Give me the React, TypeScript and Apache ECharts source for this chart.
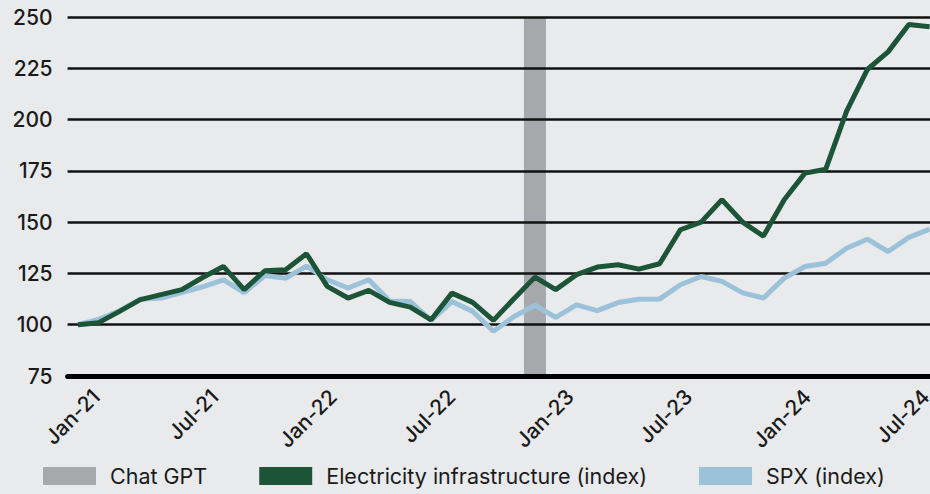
import React, { useEffect, useRef } from "react";
import * as echarts from "echarts";

const months = [
  "Jan-21","Feb-21","Mar-21","Apr-21","May-21","Jun-21","Jul-21","Aug-21","Sep-21","Oct-21","Nov-21","Dec-21",
  "Jan-22","Feb-22","Mar-22","Apr-22","May-22","Jun-22","Jul-22","Aug-22","Sep-22","Oct-22","Nov-22","Dec-22",
  "Jan-23","Feb-23","Mar-23","Apr-23","May-23","Jun-23","Jul-23","Aug-23","Sep-23","Oct-23","Nov-23","Dec-23",
  "Jan-24","Feb-24","Mar-24","Apr-24","May-24","Jun-24",
];

const electricity = [
  100, 101, 106.5, 112.2, 114.7, 117.1, 123, 128.4, 117.1, 126.3, 126.8, 134.6,
  118.7, 113, 116.7, 110.9, 108.6, 102.4, 115.4, 110.9, 102.1, 112.8, 123.2, 117.1,
  124.4, 128.1, 129.2, 127.1, 129.7, 146.3, 150, 160.9, 150, 143.2, 160.9, 173.9,
  175.8, 204, 224.4, 233, 246.3, 245.2,
];

const spx = [
  100, 102.6, 106.8, 112.4, 113, 115.7, 118.5, 121.9, 115.7, 124, 122.7, 128.6,
  121.9, 117.9, 121.9, 111.6, 111.3, 102.1, 111.3, 106.5, 96.8, 104, 109.5, 103.6,
  109.7, 106.9, 110.8, 112.4, 112.5, 119.5, 123.5, 121.1, 115.5, 113, 122.7, 128.4,
  130, 137.3, 141.7, 135.7, 142.6, 146.6,
];

const chatGpt = months.map((m) => (m === "Nov-22" ? 250 : null));

const xTickMonths = [0, 6, 12, 18, 24, 30, 36, 42];
const xTickLabels = ["Jan-21", "Jul-21", "Jan-22", "Jul-22", "Jan-23", "Jul-23", "Jan-24", "Jul-24"];

const FONT = "Inter, 'Noto Sans', sans-serif";

export default function App() {
  const ref = useRef<HTMLDivElement>(null);
  useEffect(() => {
    if (!ref.current) return;
    const chart = echarts.init(ref.current, undefined, { renderer: "svg" });
    chart.setOption({
      animation: false,
      backgroundColor: "#e9eaec",
      textStyle: { fontFamily: FONT },
      grid: { left: 67.6, right: 0, top: 17, bottom: 118, containLabel: false },
      legend: {
        data: ["Chat GPT", "Electricity infrastructure (index)", "SPX (index)"],
        left: 43,
        top: 465,
        padding: 0,
        icon: "rect",
        itemWidth: 53,
        itemHeight: 18,
        itemGap: 52,
        textStyle: { fontSize: 21.5, color: "#1a1a1a", fontFamily: FONT, padding: [0, 0, 0, 9] },
      },
      xAxis: [
        {
          type: "category",
          data: months,
          boundaryGap: true,
          axisLine: { show: true, lineStyle: { color: "#000", width: 5 } },
          axisTick: { show: false },
          axisLabel: { show: false },
          splitLine: { show: false },
        },
        {
          type: "value",
          position: "bottom",
          min: -1.44,
          max: 42.73,
          axisLine: { show: false },
          axisTick: { show: false },
          splitLine: { show: false },
          axisLabel: {
            customValues: xTickMonths,
            rotate: 45,
            margin: 17,
            fontSize: 21,
            fontWeight: 500,
            color: "#1a1a1a",
            fontFamily: FONT,
            formatter: (v: number) => {
              const idx = xTickMonths.indexOf(Math.round(v));
              return idx >= 0 ? xTickLabels[idx] : "";
            },
          },
        },
      ],
      yAxis: {
        type: "value",
        min: 75,
        max: 250,
        interval: 25,
        axisLine: { show: false },
        axisTick: { show: false },
        axisLabel: { fontSize: 21, fontWeight: 500, color: "#1a1a1a", margin: 15, fontFamily: FONT },
        splitLine: { show: true, lineStyle: { color: "#111", width: 2.5 } },
      },
      series: [
        {
          name: "Chat GPT",
          type: "bar",
          xAxisIndex: 0,
          data: chatGpt,
          barWidth: 22,
          z: -1,
          itemStyle: { color: "#a7a8ab" },
        },
        {
          name: "SPX (index)",
          type: "line",
          xAxisIndex: 0,
          data: spx,
          symbol: "none",
          lineStyle: { color: "#9bc2d8", width: 5 },
          itemStyle: { color: "#9bc2d8" },
        },
        {
          name: "Electricity infrastructure (index)",
          type: "line",
          xAxisIndex: 0,
          data: electricity,
          symbol: "none",
          lineStyle: { color: "#1c5438", width: 5 },
          itemStyle: { color: "#1c5438" },
        },
      ],
    });
    return () => chart.dispose();
  }, []);
  return (
    <div
      ref={ref}
      style={{ position: "fixed", left: 0, top: 0, width: 940.4, height: 494 }}
    />
  );
}
